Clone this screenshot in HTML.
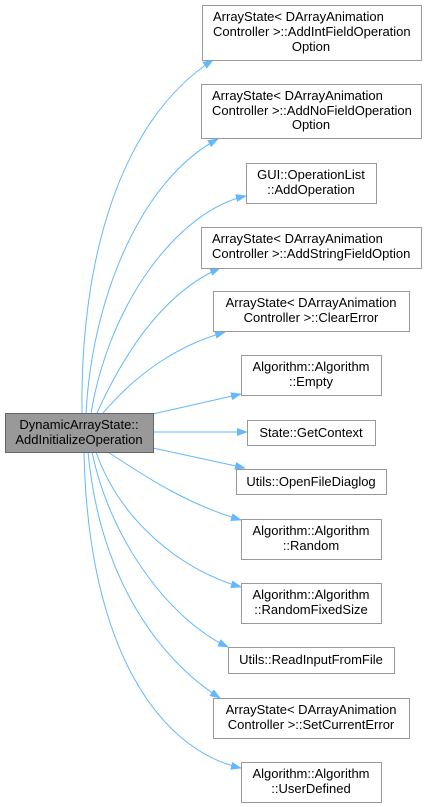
<!DOCTYPE html>
<html><head><meta charset="utf-8"><style>
body{margin:0;background:#fff;width:427px;height:807px;overflow:hidden}
svg{display:block}
text{font-family:"Liberation Sans",Arial,sans-serif;font-size:13px;fill:#000}
.b{fill:#fff;stroke:#999;stroke-width:1}
.e{fill:none;stroke:#63b8ff;stroke-width:1}
</style></head><body>
<svg width="427" height="807" viewBox="0 0 427 807">
<defs><marker id="a" markerWidth="11" markerHeight="8" refX="10" refY="4" orient="auto" markerUnits="userSpaceOnUse"><path d="M0,0 L11,4 L0,8 z" fill="#63b8ff"/></marker></defs>
<g class="e" marker-end="url(#a)">
<path d="M82,413 C80,260 120,120 213,60"/>
<path d="M86,413 C92,300 140,180 218,139"/>
<path d="M91,413 C110,300 180,210 246,196"/>
<path d="M97,413 C130,340 170,290 220,268"/>
<path d="M103,413 C140,370 180,345 225,332"/>
<path d="M153,414 L241,394"/>
<path d="M153,432 L247,432"/>
<path d="M153,448 L245,468"/>
<path d="M108,452 C150,480 190,505 241,520"/>
<path d="M96,452 C120,520 180,570 241,587"/>
<path d="M92,452 C110,540 170,620 228,647"/>
<path d="M88,452 C100,580 160,660 220,698"/>
<path d="M84,452 C88,650 160,750 241,768"/>
</g>
<rect x="5.5" y="413.5" width="148" height="39" fill="#999" stroke="#666"/>
<text x="79" y="429" text-anchor="middle">DynamicArrayState::</text>
<text x="79" y="444" text-anchor="middle">AddInitializeOperation</text>

<rect class="b" x="202.5" y="5.5" width="219" height="55"/>
<text x="213" y="21">ArrayState&lt; DArrayAnimation</text>
<text x="213" y="36">Controller &gt;::AddIntFieldOperation</text>
<text x="311" y="51" text-anchor="middle">Option</text>

<rect class="b" x="201.5" y="84.5" width="220" height="54"/>
<text x="212" y="100">ArrayState&lt; DArrayAnimation</text>
<text x="212" y="115">Controller &gt;::AddNoFieldOperation</text>
<text x="311" y="129" text-anchor="middle">Option</text>

<rect class="b" x="246.5" y="163.5" width="130" height="40"/>
<text x="311" y="179" text-anchor="middle">GUI::OperationList</text>
<text x="311" y="194" text-anchor="middle">::AddOperation</text>

<rect class="b" x="201.5" y="227.5" width="220" height="41"/>
<text x="212" y="243">ArrayState&lt; DArrayAnimation</text>
<text x="212" y="258">Controller &gt;::AddStringFieldOption</text>

<rect class="b" x="213.5" y="291.5" width="196" height="40"/>
<text x="311" y="307" text-anchor="middle">ArrayState&lt; DArrayAnimation</text>
<text x="311" y="322" text-anchor="middle">Controller &gt;::ClearError</text>

<rect class="b" x="241.5" y="355.5" width="140" height="40"/>
<text x="311" y="371" text-anchor="middle">Algorithm::Algorithm</text>
<text x="311" y="386" text-anchor="middle">::Empty</text>

<rect class="b" x="247.5" y="420.5" width="128" height="25"/>
<text x="311" y="437" text-anchor="middle">State::GetContext</text>

<rect class="b" x="236.5" y="469.5" width="150" height="25"/>
<text x="311" y="486" text-anchor="middle">Utils::OpenFileDiaglog</text>

<rect class="b" x="241.5" y="519.5" width="140" height="40"/>
<text x="311" y="535" text-anchor="middle">Algorithm::Algorithm</text>
<text x="311" y="550" text-anchor="middle">::Random</text>

<rect class="b" x="241.5" y="583.5" width="140" height="40"/>
<text x="311" y="599" text-anchor="middle">Algorithm::Algorithm</text>
<text x="311" y="614" text-anchor="middle">::RandomFixedSize</text>

<rect class="b" x="228.5" y="647.5" width="166" height="26"/>
<text x="311" y="664" text-anchor="middle">Utils::ReadInputFromFile</text>

<rect class="b" x="213.5" y="698.5" width="196" height="40"/>
<text x="311" y="714" text-anchor="middle">ArrayState&lt; DArrayAnimation</text>
<text x="311" y="729" text-anchor="middle">Controller &gt;::SetCurrentError</text>

<rect class="b" x="241.5" y="762.5" width="140" height="40"/>
<text x="311" y="778" text-anchor="middle">Algorithm::Algorithm</text>
<text x="311" y="793" text-anchor="middle">::UserDefined</text>
</svg>
</body></html>
